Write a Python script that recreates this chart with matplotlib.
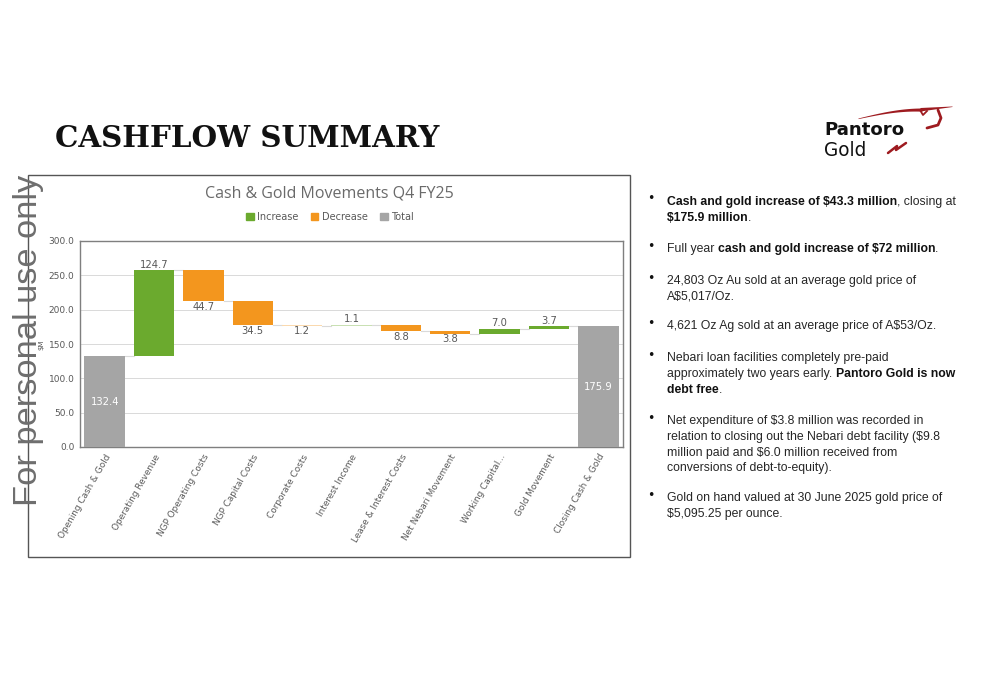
import matplotlib
matplotlib.use('Agg')
import matplotlib.pyplot as plt
from matplotlib.patches import Rectangle, Patch
from matplotlib import font_manager
import numpy as np

# chart data ($M)
categories = ['Opening Cash & Gold', 'Operating Revenue', 'NGP Operating Costs', 'NGP Capital Costs',
              'Corporate Costs', 'Interest Income', 'Lease & Interest Costs', 'Net Nebari Movement',
              'Working Capital...', 'Gold Movement', 'Closing Cash & Gold']
values = [132.4, 124.7, -44.7, -34.5, -1.2, 1.1, -8.8, -3.8, 7.0, 3.7, 175.9]
is_total = [True, False, False, False, False, False, False, False, False, False, True]
yticks = [0, 50, 100, 150, 200, 250, 300]

# slide text
bullets = [
    [[('Cash and gold increase of $43.3 million', True), (', closing at', False)],
     [('$175.9 million', True), ('.', False)]],
    [[('Full year ', False), ('cash and gold increase of $72 million', True), ('.', False)]],
    [[('24,803 Oz Au sold at an average gold price of', False)],
     [('A$5,017/Oz.', False)]],
    [[('4,621 Oz Ag sold at an average price of A$53/Oz.', False)]],
    [[('Nebari loan facilities completely pre-paid', False)],
     [('approximately two years early. ', False), ('Pantoro Gold is now', True)],
     [('debt free', True), ('.', False)]],
    [[('Net expenditure of $3.8 million was recorded in', False)],
     [('relation to closing out the Nebari debt facility ($9.8', False)],
     [('million paid and $6.0 million received from', False)],
     [('conversions of debt-to-equity).', False)]],
    [[('Gold on hand valued at 30 June 2025 gold price of', False)],
     [('$5,095.25 per ounce.', False)]],
]
bullet_y = [201, 248, 280, 325, 357, 420, 497]

W, H = 1000, 685
GREEN, ORANGE, GREY = '#6BAA2E', '#F3961E', '#A5A5A5'
faded = {'Corporate Costs': '#FAD9AE', 'Interest Income': '#C9E0B3'}
LABEL = '#595959'

installed = {f.name for f in font_manager.fontManager.ttflist}
WM_FAM = 'Liberation Sans Narrow' if 'Liberation Sans Narrow' in installed else 'Liberation Sans'

fig = plt.figure(figsize=(10, 6.85), dpi=100)
fig.patch.set_facecolor('white')
renderer = fig.canvas.get_renderer()

bg = fig.add_axes([0, 0, 1, 1])
bg.set_xlim(0, W)
bg.set_ylim(H, 0)
bg.axis('off')

# outer chart frame
bg.add_patch(Rectangle((28, 175), 602, 382, fill=False, ec='#555555', lw=1.0))

def px_width(txt, **kw):
    t = fig.text(0, 0, txt + '|', **kw)
    t2 = fig.text(0, 0, '|', **kw)
    w = t.get_window_extent(renderer).width - t2.get_window_extent(renderer).width
    t.remove(); t2.remove()
    return w

# slide title
ttl = bg.text(55, 147, 'CASHFLOW SUMMARY', fontsize=26, fontweight='heavy',
              family='DejaVu Serif', color='#111111', va='baseline', ha='left')
tw = ttl.get_window_extent(renderer).width
ttl.set_fontsize(26 * 385 / tw)

# logo
pt = bg.text(824, 135, 'Pantoro', fontsize=15, fontweight='bold', family='DejaVu Sans',
             color='#111111', va='baseline', ha='left')
pt.set_fontsize(15 * 81 / pt.get_window_extent(renderer).width)
bg.text(824, 156, 'Gold', fontsize=pt.get_fontsize() * 1.02, family='DejaVu Sans',
        color='#111111', va='baseline', ha='left')
red = '#9E1B20'
t = np.linspace(0, 1, 40)
sx = 858 + 64 * t
upper = 118 - 10 * np.sin(np.pi / 2 * t)
lower = upper + 0.6 + 2.6 * t
bg.fill_between(sx, upper, lower, color=red, lw=0)
t2 = np.linspace(0, 1, 20)
bg.fill_between(920 + 32 * t2, 107.5 - 1.5 * t2, 111 - 4.5 * t2, color=red, lw=0)
bg.plot([920, 923, 927], [110, 115, 111], color=red, lw=1.3)
bg.plot([938, 941, 938, 927], [110, 118, 125, 128], color=red, lw=2.0, solid_capstyle='round')
bg.plot([888, 897, 896, 906], [153, 146, 150, 143], color=red, lw=1.8, solid_capstyle='round')

# chart
ax = fig.add_axes([80 / W, (H - 447) / H, 543 / W, 206 / H])
x = np.arange(len(categories))
running = 0.0
tops = []
for i, (cat, v, tot) in enumerate(zip(categories, values, is_total)):
    if tot:
        bottom, height, col = 0, v, GREY
        running = v
    else:
        bottom = running if v > 0 else running + v
        height = abs(v)
        col = GREEN if v > 0 else ORANGE
        running = running + v
    col = faded.get(cat, col)
    ax.bar(i, height, bottom=bottom, width=0.82, color=col, zorder=3)
    tops.append(running)
    if tot:
        ax.text(i, height / 2, f'{v:.1f}', ha='center', va='center', color='white', fontsize=7.2)
    elif v > 0:
        ax.text(i, bottom + height + 1, f'{v:.1f}', ha='center', va='bottom', color=LABEL,
                fontsize=7.2, zorder=4)
    else:
        ax.text(i, bottom - 1, f'{abs(v):.1f}', ha='center', va='top', color=LABEL,
                fontsize=7.2, zorder=4)

for i in range(len(categories) - 1):
    ax.plot([i + 0.41, i + 1 - 0.41], [tops[i], tops[i]], color='#D9D9D9', lw=0.8, zorder=2)

ax.set_xlim(-0.5, len(categories) - 0.5)
ax.set_ylim(0, 300)
ax.set_yticks(yticks)
ax.set_yticklabels([f'{v:.1f}' for v in yticks], fontsize=6.5, color=LABEL)
ax.set_xticks(x)
ax.set_xticklabels(categories, rotation=60, ha='right', rotation_mode='anchor',
                   fontsize=6.4, color=LABEL)
ax.tick_params(length=0, pad=4)
ax.grid(axis='y', color='#D9D9D9', lw=0.7, zorder=0)
for s in ax.spines.values():
    s.set_color('#7F7F7F')
    s.set_linewidth(1.0)

fig.text(329 / W, 1 - 193 / H, 'Cash & Gold Movements Q4 FY25', ha='center', va='center',
         fontsize=11.5, color='#6A6A6A', family='Open Sans')
handles = [Patch(color=GREEN, label='Increase'), Patch(color=ORANGE, label='Decrease'),
           Patch(color=GREY, label='Total')]
fig.legend(handles=handles, loc='center', bbox_to_anchor=(330 / W, 1 - 217 / H), ncol=3,
           frameon=False, fontsize=7, handlelength=0.8, handleheight=0.8,
           handletextpad=0.4, columnspacing=1.2, labelcolor=LABEL)
fig.text(41 / W, 1 - 345 / H, '$M', rotation=90, ha='center', va='center', fontsize=5,
         color=LABEL)

# right-hand bullets
FAM = 'Liberation Sans'
FS = 9 * 255 / px_width('Net expenditure of $3.8 million was recorded in', fontsize=9, family=FAM)
for by, lines in zip(bullet_y, bullets):
    fig.text(651 / W, 1 - (by - 2) / H, '\u2022', ha='center', va='center', fontsize=9,
             color='#111111', family='DejaVu Sans')
    for li, runs in enumerate(lines):
        xp = 667
        yp = by + 1 + li * 15.8
        for s, b in runs:
            kw = dict(fontsize=FS, family=FAM, fontweight='bold' if b else 'normal')
            fig.text(xp / W, 1 - yp / H, s, ha='left', va='center',
                     color='#111111' if b else '#262626', **kw)
            xp += px_width(s, **kw)

# watermark
wm = fig.text(29 / W, 1 - 340 / H, 'For personal use only', rotation=90, ha='center',
              va='center', fontsize=30, color='#6E6E6E', family=WM_FAM, zorder=10)
wm_len = wm.get_window_extent(renderer).height
wm.set_fontsize(30 * 330 / wm_len)

fig.savefig('out.png', dpi=100, facecolor='white')
